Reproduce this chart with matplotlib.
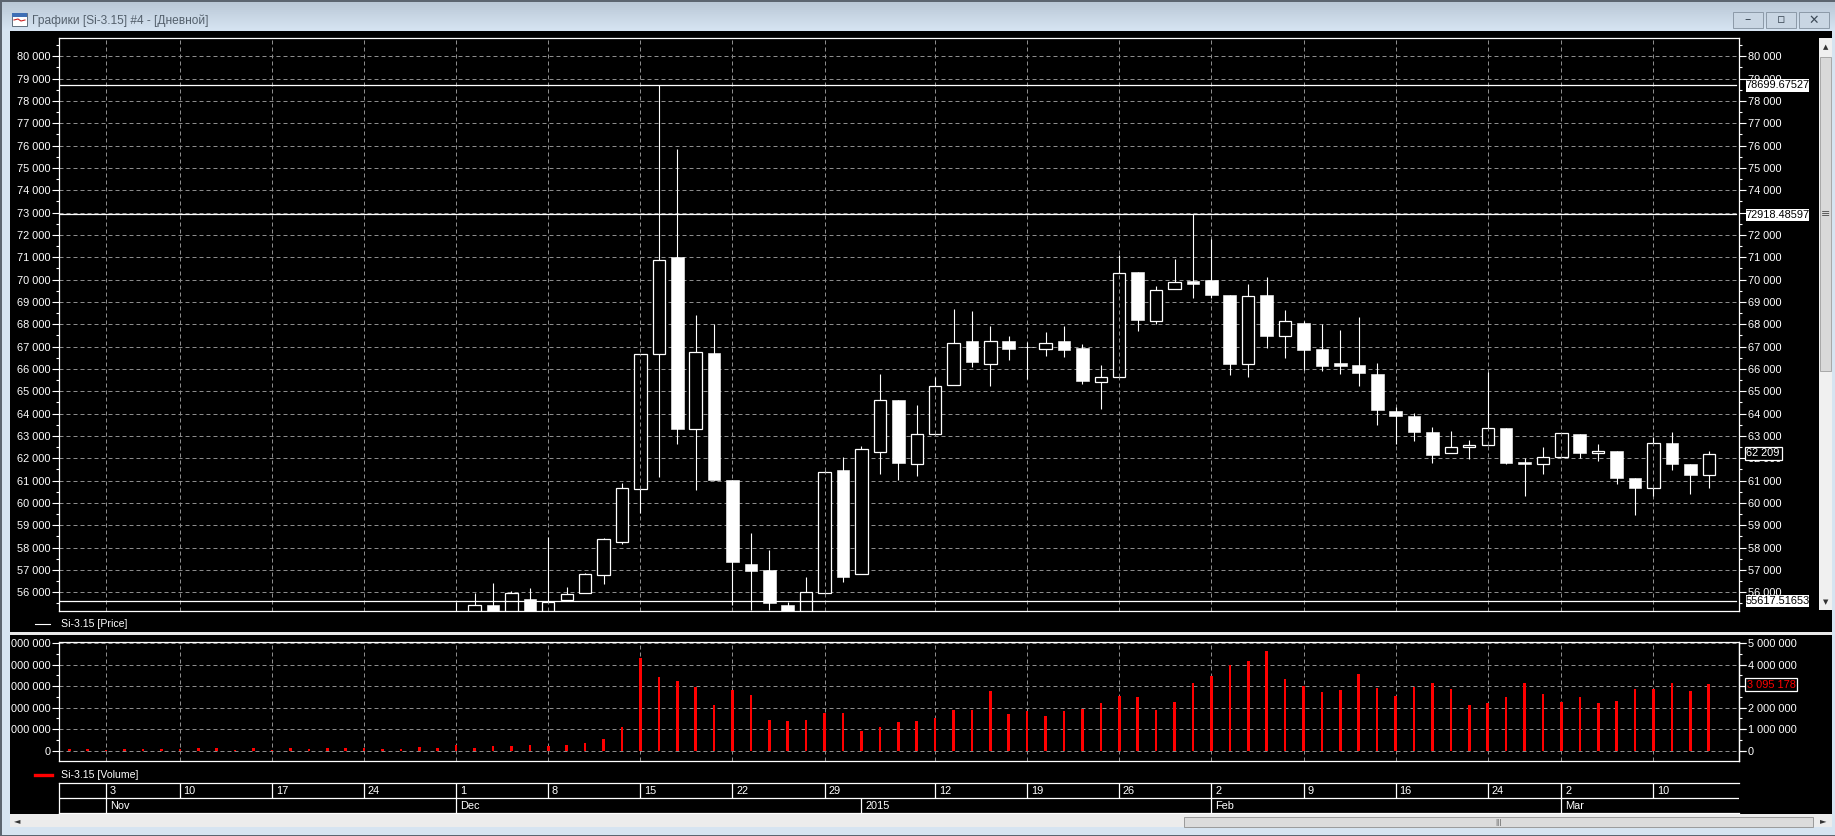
import numpy as np
import matplotlib
matplotlib.use('Agg')
import matplotlib.pyplot as plt
from matplotlib.patches import Rectangle

plt.rcParams['font.family'] = ['Liberation Sans', 'DejaVu Sans']

W, H = 1835, 836
GRID = '#8c8c8c'
DASH = (0, (4, 3))
FS = 7.9

# bar index 0 = 3 Nov 2014, -2 = first bar on the volume panel
vol_start = -2
volume_m = [0.10, 0.10, 0.05, 0.10, 0.10, 0.10, 0.10, 0.12, 0.12, 0.05, 0.12, 0.05, 0.12, 0.07, 0.12, 0.12,
            0.15, 0.10, 0.10, 0.17, 0.12, 0.25, 0.15, 0.22, 0.22, 0.25, 0.20, 0.28, 0.34, 0.56, 1.11,
            4.30, 3.40, 3.22, 2.96, 2.14, 2.82, 2.60, 1.42, 1.39, 1.44, 1.75, 1.75, 0.93, 1.11, 1.35, 1.39,
            1.53, 1.90, 1.90, 2.75, 1.72, 1.86, 1.63, 1.86, 1.93, 2.20, 2.54, 2.51, 1.90, 2.28, 3.16,
            3.48, 3.99, 4.18, 4.64, 3.33, 2.99, 2.74, 2.80, 3.56, 2.93, 2.54, 2.94, 3.16, 2.88, 2.14,
            2.21, 2.48, 3.16, 2.62, 2.28, 2.48, 2.20, 2.29, 2.88, 2.88, 3.13, 2.75, 3.095178]

# candles visible on the price panel start at index 19
candle_start = 19
opens = [55000, 55180, 55433, 55180, 55686, 55180, 55657, 55955, 56791, 58269, 60642, 66673, 71003, 63314, 66703,
         61031, 57269, 57000, 55433, 55180, 55985, 61479, 56836, 62284, 64598, 61747, 63090, 65300, 67241,
         66226, 67241, 66990, 66897, 67241, 66927, 65419, 65643, 70331, 68151, 69585, 69928, 69973, 69331,
         66211, 69331, 67465, 68077, 66912, 66286, 66196, 65793, 64136, 63912, 63195, 62240, 62493, 62583,
         63359, 61851, 61732, 62045, 63105, 62224, 62344, 61135, 60657, 62702, 61762, 61269]
highs = [55570, 55985, 56418, 56045, 56194, 58493, 56239, 56850, 58434, 60897, 66688, 78699.67527, 75840, 68405, 68032,
         61031, 58643, 57896, 55567, 56687, 61450, 62062, 62539, 65793, 64598, 64404, 65643, 68674, 68584,
         67913, 67465, 67211, 67644, 67913, 67136, 66166, 71093, 70331, 69704, 70944, 72918.48597, 71809, 69331,
         69824, 70137, 68659, 68137, 68002, 67764, 68346, 66286, 64300, 64031, 63419, 63240, 62837, 65882,
         63359, 62015, 62523, 63135, 63105, 62657, 62344, 61135, 62941, 63195, 61762, 62344]
lows = [54800, 55100, 55000, 55150, 55000, 55150, 55657, 55955, 56388, 58165, 59568, 61164, 62627, 60567, 61015,
        55448, 55209, 55209, 55000, 55150, 55985, 56478, 56836, 61299, 61030, 61209, 63090, 65300, 66076,
        65240, 66390, 65539, 66569, 66539, 65330, 64210, 65643, 67704, 68000, 69585, 69182, 69197, 65748,
        65629, 66928, 66480, 65957, 65927, 65793, 65255, 63509, 62658, 62792, 61807, 62240, 61956, 62583,
        61762, 60299, 61284, 62045, 62030, 61866, 60866, 59477, 60314, 61493, 60418, 60657]
closes = [54900, 55418, 55050, 55955, 55050, 55552, 55910, 56806, 58374, 60658, 66688, 70898, 63299, 66778, 61015,
          57359, 56956, 55537, 55050, 56000, 61375, 56687, 62405, 64628, 61791, 63105, 65255, 67181, 66300,
          67271, 66882, 66970, 67181, 66838, 65449, 65658, 70316, 68181, 69555, 69913, 69809, 69301, 66241,
          69271, 67495, 68152, 66868, 66151, 66151, 65838, 64180, 63912, 63195, 62165, 62508, 62598, 63359,
          61807, 61732, 62060, 63135, 62254, 62344, 61135, 60657, 62687, 61762, 61269, 62209]

price_levels = [78699.67527, 72918.48597, 55617.51653]
last_price = '62 209'
last_volume = '3 095 178'

day_index = [0, 4, 9, 14, 19, 24, 29, 34, 39, 45, 50, 55, 60, 65, 70, 75, 79, 84]
day_labels = ['3', '10', '17', '24', '1', '8', '15', '22', '29', '12', '19', '26', '2', '9', '16', '24', '2', '10']
month_index = [0, 19, 41, 60, 79]
month_labels = ['Nov', 'Dec', '2015', 'Feb', 'Mar']

price_ticks = list(range(56000, 80001, 1000))
volume_ticks = [0, 1000000, 2000000, 3000000, 4000000, 5000000]
volume_left_labels = ['0', '000 000', '000 000', '000 000', '000 000', '000 000']


def spaced(v):
    return f'{v:,}'.replace(',', ' ')


def px_axes(x0, y0, x1, y1, **kw):
    return fig.add_axes([x0 / W, 1 - y1 / H, (x1 - x0) / W, (y1 - y0) / H], **kw)


fig = plt.figure(figsize=(W / 100, H / 100), dpi=100, facecolor='#d6e4f1')

# window chrome, in pixels
bg = px_axes(0, 0, W, H, zorder=0)
grad = np.linspace(0, 1, 31).reshape(-1, 1)
bg.imshow(grad, extent=(0, W, 31, 0), aspect='auto', cmap=matplotlib.colors.LinearSegmentedColormap.from_list('t', ['#b8c6d5', '#d6e4f2']))
bg.set_xlim(0, W)
bg.set_ylim(H, 0)
bg.axis('off')


def box(x0, y0, x1, y1, fc, ec='none', lw=0.7, ax=None):
    (ax or bg).add_patch(Rectangle((x0, y0), x1 - x0, y1 - y0, facecolor=fc, edgecolor=ec, linewidth=lw))


box(0, 0, W, 1.5, '#5c6570')
box(0, 0, 2, H, '#5c6570')
box(0, H - 1.5, W, H, '#5c6570')
box(10, 31, 1832, 814, 'black')
box(10, 632, 1832, 634.5, '#e8e8e8')
box(1819, 38, 1832, 610, '#f0f0f0')
box(1820, 57, 1831, 371, '#d9d9d9', '#a8a8a8')
box(10, 814, 1832, 827, '#ececec')
box(1184, 817, 1813, 827, '#dcdcdc', '#9a9a9a')
bg.text(1498, 822, '|||', fontsize=6, color='#555555', ha='center', va='center')
bg.text(17.5, 821, '◄', fontsize=6, color='#333333', ha='center', va='center', family='DejaVu Sans')
bg.text(1823, 821, '►', fontsize=6, color='#333333', ha='center', va='center', family='DejaVu Sans')
bg.text(1825.5, 47, '▲', fontsize=5, color='#333333', ha='center', va='center', family='DejaVu Sans')
bg.text(1825.5, 602, '▼', fontsize=5, color='#333333', ha='center', va='center', family='DejaVu Sans')
bg.text(1825.5, 214, '≡', fontsize=8, color='#555555', ha='center', va='center', family='DejaVu Sans')

# title bar
box(12, 13, 27, 26, 'white', '#60707f')
box(12, 13, 27, 17, '#3f6fb5')
bg.plot([14, 18, 21, 25], [20, 19, 21, 20], color='#cc2222', lw=0.8)
bg.text(32, 20.5, 'Графики [Si-3.15] #4 - [Дневной]', fontsize=8.6, color='#54606c', va='center')
for x0, x1, sym in [(1733, 1763, '–'), (1766, 1796, '▫'), (1799, 1829, '✕')]:
    box(x0, 11.5, x1, 27.5, '#c9d6e3', '#8c9aa8')
    bg.text((x0 + x1) / 2, 20, sym, fontsize=9, color='#3d4a57', ha='center', va='center', family='DejaVu Sans')

# legends
bg.plot([35, 50], [624, 624], color='white', lw=0.8)
bg.text(60.5, 624, 'Si-3.15 [Price]', color='white', fontsize=7.6, va='center')
bg.plot([35, 52], [774.5, 774.5], color='red', lw=2.4)
bg.text(60.5, 774.5, 'Si-3.15 [Volume]', color='white', fontsize=7.6, va='center')

XL, XR = 59.3, 1738.7
x_lo, x_hi = (XL - 106.2) / 18.42, (XR - 106.2) / 18.42

ax = px_axes(XL, 37.5, XR, 611.3, facecolor='black', zorder=2)
ax_v = px_axes(XL, 641.7, XR, 761.3, facecolor='black', zorder=2)
ax_d = px_axes(XL, 783.3, XR, 813.3, facecolor='black', zorder=2)

for a in (ax, ax_v):
    a.set_xlim(x_lo, x_hi)
    a.set_xticks(day_index)
    a.tick_params(axis='x', length=0, labelbottom=False)
    a.tick_params(axis='y', which='both', colors='white', left=True, right=True,
                  labelleft=True, labelright=True, width=0.8, length=5, pad=1.5, labelsize=FS)
    a.tick_params(axis='y', which='minor', length=2.5)
    a.grid(True, color=GRID, lw=0.72, linestyle=DASH)
    a.set_axisbelow(True)
    for s in a.spines.values():
        s.set_color('white')
        s.set_linewidth(0.9)

# price panel
ax.set_ylim(55146, 80842)
ax.set_yticks(price_ticks)
ax.set_yticklabels([spaced(v) for v in price_ticks])
ax.set_yticks(np.arange(55500, 80600, 1000), minor=True)

xs = candle_start + np.arange(len(opens))
o, h, l, c = map(np.array, (opens, highs, lows, closes))
up = c > o
ax.vlines(xs, l, h, color='white', lw=0.8, zorder=3)
ax.bar(xs[up], (c - o)[up], bottom=o[up], width=0.67, facecolor='black', edgecolor='white', linewidth=0.9, zorder=4)
ax.bar(xs[~up], (o - c)[~up], bottom=c[~up], width=0.69, facecolor='white', edgecolor='white', linewidth=0.4, zorder=4)
# vertical grid shows through the hollow bodies
for x, lo_, hi_ in zip(xs[up], o[up], c[up]):
    if x in day_index:
        ax.vlines(x, lo_, hi_, color=GRID, lw=0.72, linestyle=DASH, zorder=5)
for lv in price_levels:
    ax.plot([x_lo, x_hi - 0.15], [lv, lv], color='white', lw=0.9, zorder=6)

# volume panel
ax_v.set_ylim(-490000, 5060000)
ax_v.set_yticks(volume_ticks)
ax_v.set_yticklabels(volume_left_labels)
ax_v.set_yticks(np.arange(500000, 5000000, 1000000), minor=True)
ax_v.tick_params(axis='y', labelright=False)
v_right = ax_v.secondary_yaxis('right')
v_right.set_yticks(volume_ticks)
v_right.set_yticklabels([spaced(v) for v in volume_ticks])
v_right.tick_params(axis='y', colors='white', width=0.8, length=5, pad=1.5, labelsize=FS)
v_right.spines['right'].set_color('white')
v_right.spines['right'].set_linewidth(0.9)
vol_x = vol_start + np.arange(len(volume_m))
ax_v.bar(vol_x, np.array(volume_m) * 1e6, width=0.14, color='red', zorder=3)

# date strip
ax_d.set_xlim(x_lo, x_hi)
ax_d.set_ylim(0, 2)
ax_d.set_xticks([])
ax_d.set_yticks([])
for name, s in ax_d.spines.items():
    s.set_color('white')
    s.set_linewidth(0.9)
    s.set_visible(name != 'right')
ax_d.axhline(1, color='white', lw=0.9)
ax_d.vlines(day_index, 1, 2, color='white', lw=0.9)
ax_d.vlines(month_index, 0, 1, color='white', lw=0.9)
for x, s in zip(day_index, day_labels):
    ax_d.text(x + 0.2, 1.47, s, color='white', fontsize=FS, va='center')
for x, s in zip(month_index, month_labels):
    ax_d.text(x + 0.2, 0.47, s, color='white', fontsize=FS, va='center')

# value flags over the right scale
ov = px_axes(0, 0, W, H, zorder=10)
ov.set_xlim(0, W)
ov.set_ylim(H, 0)
ov.axis('off')
ov.patch.set_alpha(0)
for lv, yc in zip(price_levels, [85.5, 214.7, 601]):
    box(1746, yc - 6.2, 1809, yc + 6.2, 'white', ax=ov)
    ov.text(1777.5, yc, f'{lv:.5f}', color='black', fontsize=FS, ha='center', va='center')
box(1744.5, 446.7, 1781.7, 460, 'black', 'white', 0.9, ax=ov)
ov.text(1763, 453.5, last_price, color='white', fontsize=FS, ha='center', va='center')
box(1745, 677.7, 1797, 691, 'black', 'white', 0.9, ax=ov)
ov.text(1771, 684.5, last_volume, color='red', fontsize=FS, ha='center', va='center')

fig.savefig('out.png', dpi=100, facecolor=fig.get_facecolor())
